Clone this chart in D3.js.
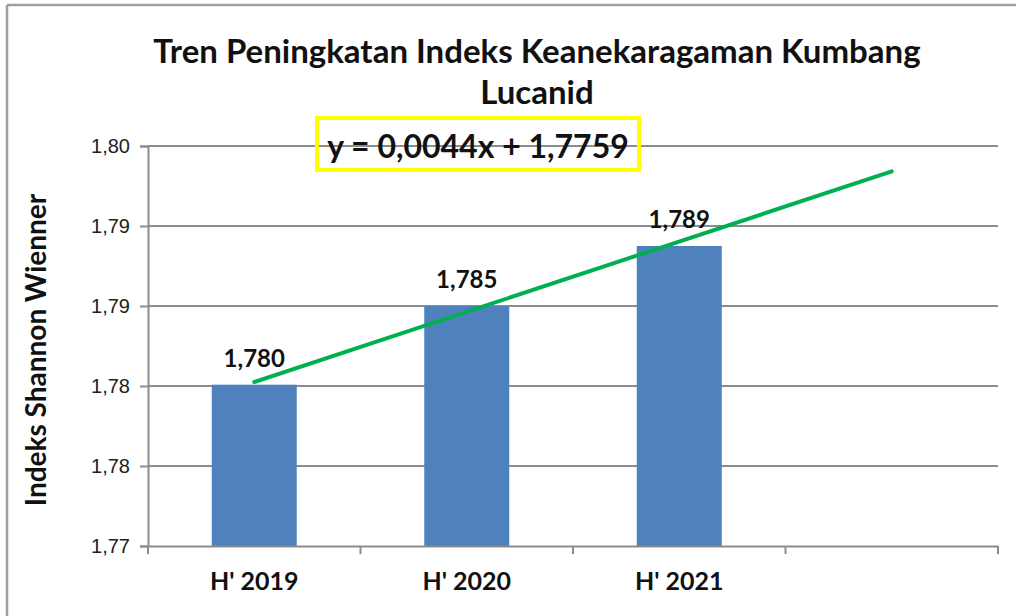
<!DOCTYPE html>
<html>
<head>
<meta charset="utf-8">
<script src="https://cdn.jsdelivr.net/npm/d3@7"></script>
<style>
  html, body { margin: 0; padding: 0; background: #fff; }
  svg { display: block; }
</style>
</head>
<body>
<svg id="chart" width="1016" height="616"></svg>
<script>
// ---- data ----
const categories = ["H' 2019", "H' 2020", "H' 2021", ""];
const barValues = [1.7821, 1.7880, 1.7925];
const barLabels = ["1,780", "1,785", "1,789"];
const yTicks = [1.770, 1.776, 1.782, 1.788, 1.794, 1.800];
const trendCats = ["H' 2019", ""];
const trendValues = [1.7823, 1.7981];
const titleLines = ["Tren Peningkatan Indeks Keanekaragaman Kumbang", "Lucanid"];
const equationText = "y = 0,0044x + 1,7759";
const yAxisTitle = "Indeks Shannon Wienner";

// ---- layout ----
const svg = d3.select("#chart");
const W = 1016, H = 616;
const plot = { left: 148, right: 998, top: 146, bottom: 546 };
const boldFont = "Lato, 'Open Sans', sans-serif";
const gridColor = "#8c8c8c";

// outer frame (top and left edges visible)
svg.append("line").attr("x1", 7).attr("x2", W).attr("y1", 5).attr("y2", 5)
  .attr("stroke", "#a0a0a0").attr("stroke-width", 2.5);
svg.append("line").attr("x1", 7).attr("x2", 7).attr("y1", 5).attr("y2", H)
  .attr("stroke", "#a0a0a0").attr("stroke-width", 2.5);

const x = d3.scaleBand().domain(categories).range([plot.left, plot.right]).padding(0);
const y = d3.scaleLinear().domain([1.77, 1.80]).range([plot.bottom, plot.top]);
const fmt = v => d3.format(".2f")(v).replace(".", ",");

// gridlines
svg.append("g").selectAll("line").data(yTicks.slice(1)).join("line")
  .attr("x1", plot.left).attr("x2", plot.right)
  .attr("y1", d => y(d)).attr("y2", d => y(d))
  .attr("stroke", gridColor).attr("stroke-width", 2);

// y axis
const yAxis = svg.append("g").attr("transform", `translate(${plot.left},0)`)
  .call(d3.axisLeft(y).tickValues(yTicks).tickFormat(fmt).tickSize(8).tickPadding(10));
yAxis.select(".domain").attr("stroke", gridColor).attr("stroke-width", 2);
yAxis.selectAll(".tick line").attr("stroke", gridColor).attr("stroke-width", 2);
yAxis.selectAll(".tick text").attr("font-family", "'Liberation Sans', Arial, sans-serif")
  .attr("font-size", 20).attr("fill", "#222");

// bars
const barW = x.bandwidth() * 0.4;
svg.append("g").selectAll("rect").data(barValues).join("rect")
  .attr("x", (d, i) => x(categories[i]) + (x.bandwidth() - barW) / 2)
  .attr("width", barW)
  .attr("y", d => y(d))
  .attr("height", d => y(1.77) - y(d))
  .attr("fill", "#4f81bd");

// x axis
const xAxis = svg.append("g").attr("transform", `translate(0,${plot.bottom})`)
  .call(d3.axisBottom(x).tickSize(0).tickPadding(26));
xAxis.select(".domain").attr("stroke", gridColor).attr("stroke-width", 2);
xAxis.selectAll(".tick text").attr("font-family", boldFont).attr("font-weight", "bold")
  .attr("font-size", 25).attr("fill", "#111").attr("dy", "0.71em");
// category boundary ticks
const bounds = categories.map(c => x(c)).concat([x.range()[1]]);
svg.append("g").selectAll("line").data(bounds).join("line")
  .attr("x1", d => d).attr("x2", d => d)
  .attr("y1", plot.bottom).attr("y2", plot.bottom + 8)
  .attr("stroke", gridColor).attr("stroke-width", 2);

// trend line
const line = d3.line()
  .x((d, i) => x(trendCats[i]) + x.bandwidth() / 2)
  .y(d => y(d));
svg.append("path").datum(trendValues).attr("d", line)
  .attr("fill", "none").attr("stroke", "#00b050").attr("stroke-width", 4)
  .attr("stroke-linecap", "round");

// bar labels
svg.append("g").selectAll("text").data(barValues).join("text")
  .attr("x", (d, i) => x(categories[i]) + x.bandwidth() / 2)
  .attr("y", d => y(d) - 18)
  .attr("text-anchor", "middle")
  .attr("font-family", boldFont).attr("font-weight", "bold")
  .attr("font-size", 24).attr("fill", "#111")
  .text((d, i) => barLabels[i]);

// title
const title = svg.append("g");
title.selectAll("text").data(titleLines).join("text")
  .attr("x", 537).attr("y", (d, i) => 63 + i * 41)
  .attr("text-anchor", "middle")
  .attr("font-family", boldFont).attr("font-weight", "bold")
  .attr("font-size", 33).attr("fill", "#111")
  .text(d => d);

// equation box
svg.append("rect").attr("x", 317).attr("y", 118).attr("width", 322).attr("height", 52)
  .attr("fill", "none").attr("stroke", "#ffff00").attr("stroke-width", 4);
svg.append("text").attr("x", 478).attr("y", 158).attr("text-anchor", "middle")
  .attr("font-family", boldFont).attr("font-weight", "bold")
  .attr("font-size", 32).attr("fill", "#111")
  .text(equationText);

// y axis title
svg.append("text")
  .attr("transform", `translate(46,${(plot.top + plot.bottom) / 2 + 4}) rotate(-90)`)
  .attr("text-anchor", "middle")
  .attr("font-family", boldFont).attr("font-weight", "bold")
  .attr("font-size", 28).attr("fill", "#111")
  .text(yAxisTitle);
</script>
</body>
</html>
